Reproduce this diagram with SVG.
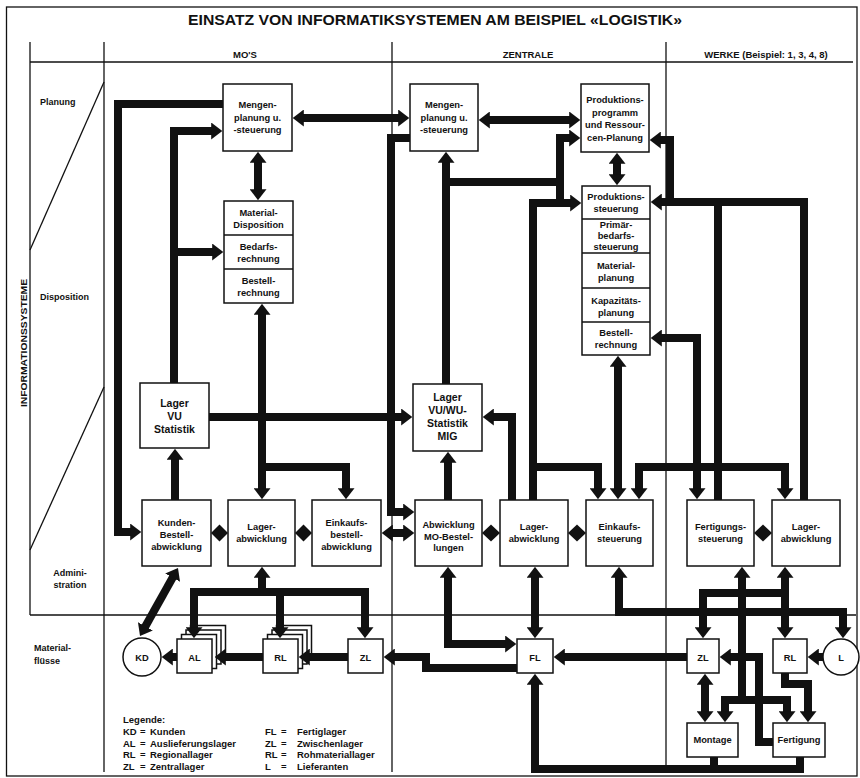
<svg xmlns="http://www.w3.org/2000/svg" width="860" height="778" viewBox="0 0 860 778">
<defs>
<marker id="ah" viewBox="0 0 11 17" refX="0.8" refY="8.5" markerWidth="11" markerHeight="17" markerUnits="userSpaceOnUse" orient="auto-start-reverse"><path d="M0,0 L11,8.5 L0,17 Z" fill="#111"/></marker>
<style>
.g{stroke:#111;stroke-width:1.3;fill:none}
.box{fill:#fff;stroke:#111;stroke-width:1.5}
.c{fill:none;stroke:#111;stroke-width:8;stroke-linejoin:miter;stroke-linecap:butt}
.a{marker-end:url(#ah)}
.b{marker-start:url(#ah);marker-end:url(#ah)}
.s{marker-start:url(#ah)}
.d{fill:#111}
text{font-family:"Liberation Sans",Arial,Helvetica,sans-serif;font-weight:bold;fill:#111}
.t{font-size:9.3px;text-anchor:middle}
.tb{font-size:10.5px;text-anchor:middle}
.h{font-size:9.5px;text-anchor:middle}
.l{font-size:9px}
.lg{font-size:9.5px}
</style>
</defs>
<rect width="860" height="778" fill="#fff"/>
<g id="frame">
<rect class="g" x="6.5" y="7" width="850.5" height="769"/>
<text x="435" y="25" font-size="14.5" text-anchor="middle" textLength="494" lengthAdjust="spacingAndGlyphs">EINSATZ VON INFORMATIKSYSTEMEN AM BEISPIEL «LOGISTIK»</text>
<line class="g" x1="30" y1="42" x2="30" y2="615"/>
<line class="g" x1="104" y1="42" x2="104" y2="772"/>
<line class="g" x1="392" y1="42" x2="392" y2="772"/>
<line class="g" x1="666" y1="42" x2="666" y2="772"/>
<line class="g" x1="30" y1="62" x2="853" y2="62"/>
<line class="g" x1="30" y1="615" x2="856" y2="615"/>
<line class="g" x1="104" y1="82" x2="30" y2="250"/>
<line class="g" x1="104" y1="387" x2="30" y2="550"/>
<text class="h" x="245" y="58">MO'S</text>
<text class="h" x="528" y="58">ZENTRALE</text>
<text class="h" x="766" y="58">WERKE (Beispiel: 1, 3, 4, 8)</text>
<text class="l" x="40" y="105">Planung</text>
<text class="l" x="40" y="300">Disposition</text>
<text class="l" x="70" y="576" text-anchor="middle">Admini-</text>
<text class="l" x="70" y="588" text-anchor="middle">stration</text>
<text class="l" x="34" y="651">Material-</text>
<text class="l" x="34" y="664">flüsse</text>
<text x="0" y="0" font-size="8.5" text-anchor="middle" textLength="128" lengthAdjust="spacingAndGlyphs" transform="translate(27 343) rotate(-90)">INFORMATIONSSYSTEME</text>
</g>
<g id="mo-mengenplanung"><rect class="box" x="223" y="84" width="69" height="67"/><text class="t" x="257.5" y="108">Mengen-</text><text class="t" x="257.5" y="120.5">planung u.</text><text class="t" x="257.5" y="133">-steuerung</text></g>
<g id="mo-disposition"><rect class="box" x="224" y="201" width="69" height="102"/><line class="g" x1="224" y1="235" x2="293" y2="235"/><line class="g" x1="224" y1="269" x2="293" y2="269"/>
<text class="t" x="258.5" y="216">Material-</text><text class="t" x="258.5" y="228">Disposition</text>
<text class="t" x="258.5" y="250">Bedarfs-</text><text class="t" x="258.5" y="262">rechnung</text>
<text class="t" x="258.5" y="284">Bestell-</text><text class="t" x="258.5" y="296">rechnung</text></g>
<g id="mo-lager-statistik"><rect class="box" x="140" y="383" width="69" height="65"/><text class="tb" x="174.5" y="407">Lager</text><text class="tb" x="174.5" y="420">VU</text><text class="tb" x="174.5" y="433">Statistik</text></g>
<g id="mo-kunden"><rect class="box" x="142" y="500" width="69" height="66"/><text class="t" x="176.5" y="526">Kunden-</text><text class="t" x="176.5" y="538">Bestell-</text><text class="t" x="176.5" y="550">abwicklung</text></g>
<g id="mo-lager"><rect class="box" x="228" y="500" width="67" height="66"/><text class="t" x="261.5" y="530">Lager-</text><text class="t" x="261.5" y="542">abwicklung</text></g>
<g id="mo-einkauf"><rect class="box" x="312" y="500" width="69" height="66"/><text class="t" x="346.5" y="526">Einkaufs-</text><text class="t" x="346.5" y="538">bestell-</text><text class="t" x="346.5" y="550">abwicklung</text></g>
<g id="z-mengenplanung"><rect class="box" x="410" y="84" width="68" height="67"/><text class="t" x="444" y="108">Mengen-</text><text class="t" x="444" y="120.5">planung u.</text><text class="t" x="444" y="133">-steuerung</text></g>
<g id="z-produktionsprogramm"><rect class="box" x="581" y="84" width="68" height="68"/><text class="t" x="615" y="103">Produktions-</text><text class="t" x="615" y="115.5">programm</text><text class="t" x="615" y="128">und Ressour-</text><text class="t" x="615" y="140.5">cen-Planung</text></g>
<g id="z-produktionssteuerung"><rect class="box" x="582" y="186" width="68" height="169"/>
<line class="g" x1="582" y1="219" x2="650" y2="219"/><line class="g" x1="582" y1="253" x2="650" y2="253"/><line class="g" x1="582" y1="288" x2="650" y2="288"/><line class="g" x1="582" y1="322" x2="650" y2="322"/>
<text class="t" x="616" y="200">Produktions-</text><text class="t" x="616" y="212">steuerung</text>
<text class="t" x="616" y="228">Primär-</text><text class="t" x="616" y="239">bedarfs-</text><text class="t" x="616" y="250">steuerung</text>
<text class="t" x="616" y="269">Material-</text><text class="t" x="616" y="281">planung</text>
<text class="t" x="616" y="304">Kapazitäts-</text><text class="t" x="616" y="316">planung</text>
<text class="t" x="616" y="336">Bestell-</text><text class="t" x="616" y="348">rechnung</text></g>
<g id="z-lager-statistik"><rect class="box" x="413" y="384" width="69" height="67"/><text class="tb" x="447.5" y="401">Lager</text><text class="tb" x="447.5" y="414">VU/WU-</text><text class="tb" x="447.5" y="427">Statistik</text><text class="tb" x="447.5" y="440">MIG</text></g>
<g id="z-abwicklung"><rect class="box" x="415" y="500" width="67" height="66"/><text class="t" x="448.5" y="528">Abwicklung</text><text class="t" x="448.5" y="539.5">MO-Bestel-</text><text class="t" x="448.5" y="551">lungen</text></g>
<g id="z-lager"><rect class="box" x="500" y="500" width="68" height="66"/><text class="t" x="534" y="530">Lager-</text><text class="t" x="534" y="542">abwicklung</text></g>
<g id="z-einkauf"><rect class="box" x="586" y="500" width="67" height="66"/><text class="t" x="619.5" y="530">Einkaufs-</text><text class="t" x="619.5" y="542">steuerung</text></g>
<g id="w-fertigungssteuerung"><rect class="box" x="687" y="500" width="67" height="66"/><text class="t" x="720.5" y="530">Fertigungs-</text><text class="t" x="720.5" y="542">steuerung</text></g>
<g id="w-lager"><rect class="box" x="772" y="500" width="68" height="66"/><text class="t" x="806" y="530">Lager-</text><text class="t" x="806" y="542">abwicklung</text></g>
<g id="kd"><circle class="box" cx="142" cy="657" r="19"/><text class="t" x="142" y="660.5">KD</text></g>
<g id="al"><rect class="box" x="190.5" y="625.5" width="35" height="34"/><rect class="box" x="186" y="630" width="35" height="34"/><rect class="box" x="181.5" y="634.5" width="35" height="34"/><rect class="box" x="177" y="639" width="35" height="34"/><text class="t" x="194.5" y="660.5">AL</text></g>
<g id="rl-mo"><rect class="box" x="276.5" y="625.5" width="35" height="34"/><rect class="box" x="272" y="630" width="35" height="34"/><rect class="box" x="267.5" y="634.5" width="35" height="34"/><rect class="box" x="263" y="639" width="35" height="34"/><text class="t" x="280.5" y="660.5">RL</text></g>
<g id="zl-mo"><rect class="box" x="348" y="639" width="35" height="34"/><text class="t" x="365.5" y="660.5">ZL</text></g>
<g id="fl"><rect class="box" x="517" y="639" width="36" height="34"/><text class="t" x="535" y="660.5">FL</text></g>
<g id="zl-w"><rect class="box" x="687" y="639" width="32" height="34"/><text class="t" x="703" y="660.5">ZL</text></g>
<g id="rl-w"><rect class="box" x="773" y="639" width="34" height="34"/><text class="t" x="790" y="660.5">RL</text></g>
<g id="l"><circle class="box" cx="841" cy="657" r="18"/><text class="t" x="841" y="660.5">L</text></g>
<g id="montage"><rect class="box" x="687" y="723" width="51" height="34"/><text class="t" x="712.5" y="743">Montage</text></g>
<g id="fertigung"><rect class="box" x="773" y="723" width="52" height="34"/><text class="t" x="799" y="743">Fertigung</text></g>
<g id="connectors">
<path class="c a" d="M223 104 H118 V532 H131"/>
<path class="c a" d="M174 383 V131 H212"/>
<path class="c a" d="M174 252 H213"/>
<path class="c b" d="M258 162 V190"/>
<path class="c b" d="M303 118 H399"/>
<path class="c b" d="M262 314 V489"/>
<path class="c a" d="M262 467 H346 V489"/>
<path class="c a" d="M209 417 H402"/>
<path class="c a" d="M175 500 V459"/>
<path class="c b" d="M173 577 L145 627"/>
<path class="c a" d="M177 657 H172"/>
<path class="c a" d="M263 657 H225"/>
<path class="c a" d="M348 657 H309"/>
<path class="c b" d="M194 628 V592 H365 V628"/>
<path class="c s" d="M262 577 V592"/>
<path class="c a" d="M280 592 V628"/>
<path class="c a" d="M410 138 H391 V512 H404"/>
<path class="c b" d="M489 120 H570"/>
<path class="c b" d="M617 163 V175"/>
<path class="c a" d="M446 384 V162"/>
<path class="c a" d="M446 182 H560 V138 H570"/>
<path class="c" d="M560 182 V203"/>
<path class="c a" d="M533 500 V203 H571"/>
<path class="c a" d="M533 467 H598 V489"/>
<path class="c a" d="M512 500 V417 H493"/>
<path class="c a" d="M448 500 V462"/>
<path class="c b" d="M392 533 H404"/>
<path class="c b" d="M618 366 V489"/>
<path class="c a" d="M718 500 V202 H661"/>
<path class="c" d="M804 500 V202 H718"/>
<path class="c a" d="M670 202 V140 H660"/>
<path class="c b" d="M661 338 H697 V489"/>
<path class="c b" d="M639 489 V467 H785 V489"/>
<path class="c b" d="M785 577 V628"/>
<path class="c a" d="M785 593 H703 V628"/>
<path class="c s" d="M742 577 V700"/>
<path class="c b" d="M725 712 V700 H787 V712"/>
<path class="c a" d="M773 742 H759 V657 H730"/>
<path class="c b" d="M705 684 V712"/>
<path class="c a" d="M785 673 V684 H808 V712"/>
<path class="c a" d="M823 657 H818"/>
<path class="c b" d="M619 577 V612 H843 V628"/>
<path class="c a" d="M687 657 H564"/>
<path class="c b" d="M448 577 V644 H506"/>
<path class="c b" d="M535 577 V628"/>
<path class="c a" d="M517 668 H426 V657 H394"/>
<path class="c" d="M714 757 V769"/>
<path class="c a" d="M800 757 V769 H535 V684"/>
<polygon class="d" points="211,533 219.5,524.5 228,533 219.5,541.5"/>
<polygon class="d" points="295,533 303.5,524.5 312,533 303.5,541.5"/>
<polygon class="d" points="482,533 491,524.5 500,533 491,541.5"/>
<polygon class="d" points="568,533 577,524.5 586,533 577,541.5"/>
<polygon class="d" points="754,533 763,524.5 772,533 763,541.5"/>
</g>
<g id="legend">
<text class="lg" x="123" y="723">Legende:</text>
<text class="lg" x="123" y="735">KD</text><text class="lg" x="140" y="735">=</text><text class="lg" x="150" y="735">Kunden</text>
<text class="lg" x="123" y="747">AL</text><text class="lg" x="140" y="747">=</text><text class="lg" x="150" y="747">Auslieferungslager</text>
<text class="lg" x="123" y="758">RL</text><text class="lg" x="140" y="758">=</text><text class="lg" x="150" y="758">Regionallager</text>
<text class="lg" x="123" y="770">ZL</text><text class="lg" x="140" y="770">=</text><text class="lg" x="150" y="770">Zentrallager</text>
<text class="lg" x="265" y="735">FL</text><text class="lg" x="281" y="735">=</text><text class="lg" x="297" y="735">Fertiglager</text>
<text class="lg" x="265" y="747">ZL</text><text class="lg" x="281" y="747">=</text><text class="lg" x="297" y="747">Zwischenlager</text>
<text class="lg" x="265" y="758">RL</text><text class="lg" x="281" y="758">=</text><text class="lg" x="297" y="758">Rohmateriallager</text>
<text class="lg" x="265" y="770">L</text><text class="lg" x="281" y="770">=</text><text class="lg" x="297" y="770">Lieferanten</text>
</g>
</svg>
